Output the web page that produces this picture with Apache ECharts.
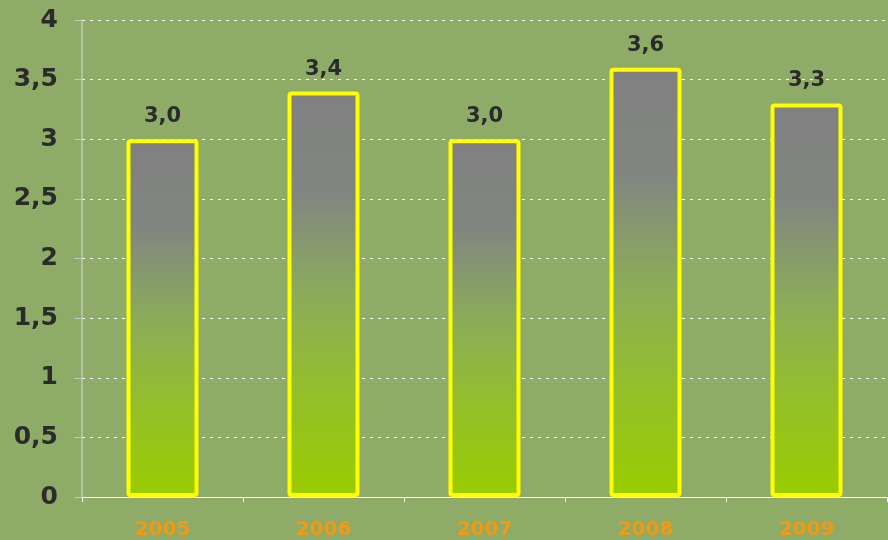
<!DOCTYPE html>
<html>
<head>
<meta charset="utf-8">
<script src="https://cdn.jsdelivr.net/npm/echarts@6/dist/echarts.min.js"></script>
<style>
html,body{margin:0;padding:0;background:#8fab68;}
#c{width:888px;height:540px;}
</style>
</head>
<body>
<div id="c"></div>
<script>
var categories = ['2005', '2006', '2007', '2008', '2009'];
var values = [3.0, 3.4, 3.0, 3.6, 3.3];
var yTicks = [0, 0.5, 1, 1.5, 2, 2.5, 3, 3.5, 4];

var chart = echarts.init(document.getElementById('c'), null, {renderer: 'canvas'});
var font = '"DejaVu Sans", Verdana, sans-serif';
chart.setOption({
  backgroundColor: '#8fab68',
  animation: false,
  grid: {left: 82, right: 1, top: 20, bottom: 43},
  xAxis: {
    type: 'category',
    data: categories,
    axisLine: {lineStyle: {color: '#ffffff', width: 1}},
    axisTick: {show: true, length: 5, lineStyle: {color: '#ffffff'}},
    axisLabel: {color: '#f39a14', fontFamily: font, fontWeight: 'bold', fontSize: 20, margin: 23}
  },
  yAxis: {
    type: 'value',
    min: yTicks[0],
    max: yTicks[yTicks.length - 1],
    interval: 0.5,
    axisLine: {show: true, lineStyle: {color: '#c4c8bc', width: 1.5}},
    axisTick: {show: true, length: 8, lineStyle: {color: '#c4c8bc'}},
    splitLine: {show: true, lineStyle: {color: '#ffffff', type: [3, 5], width: 1}},
    axisLabel: {
      color: '#2b2b2b', fontFamily: font, fontWeight: 'bold', fontSize: 25, margin: 24,
      formatter: function (v) { return String(v).replace('.', ','); }
    }
  },
  series: [{
    type: 'bar',
    data: values,
    barWidth: 72,
    itemStyle: {
      color: new echarts.graphic.LinearGradient(0, 0, 0, 1, [
        {offset: 0, color: '#808080'},
        {offset: 0.25, color: '#818681'},
        {offset: 0.5, color: '#8cab5a'},
        {offset: 0.75, color: '#94c02a'},
        {offset: 1, color: '#99cc00'}
      ]),
      borderColor: '#ffff00',
      borderWidth: 4,
      borderRadius: 2
    },
    label: {
      show: true,
      position: 'top',
      distance: 12,
      color: '#2b2b2b',
      fontFamily: font,
      fontWeight: 'bold',
      fontSize: 21,
      formatter: function (p) { return p.value.toFixed(1).replace('.', ','); }
    }
  }]
});
</script>
</body>
</html>
